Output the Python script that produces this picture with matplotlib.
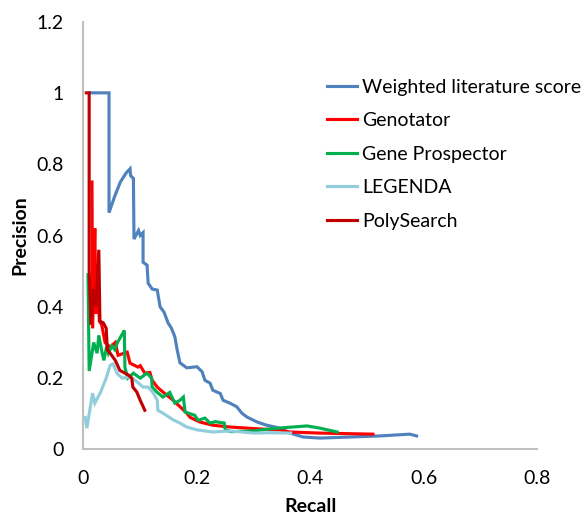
import numpy as np
import matplotlib
matplotlib.use("Agg")
import matplotlib.pyplot as plt

plt.rcParams['font.family'] = ['Lato', 'DejaVu Sans']

# recall / precision pairs
weighted_recall = [0.011, 0.045, 0.045, 0.055, 0.065, 0.075, 0.082, 0.083, 0.088, 0.089,
                   0.097, 0.100, 0.105, 0.105, 0.112, 0.114, 0.121, 0.130, 0.135, 0.142,
                   0.149, 0.155, 0.161, 0.165, 0.170, 0.182, 0.200, 0.209, 0.214, 0.223,
                   0.228, 0.241, 0.246, 0.258, 0.270, 0.279, 0.288, 0.306, 0.323, 0.346,
                   0.364, 0.387, 0.417, 0.487, 0.522, 0.575, 0.587]
weighted_prec = [1.0, 1.0, 0.664, 0.71, 0.75, 0.775, 0.787, 0.768, 0.76, 0.59,
                 0.614, 0.60, 0.608, 0.525, 0.517, 0.466, 0.45, 0.447, 0.40, 0.385,
                 0.355, 0.34, 0.316, 0.28, 0.243, 0.229, 0.232, 0.218, 0.194, 0.186,
                 0.166, 0.157, 0.138, 0.13, 0.12, 0.102, 0.091, 0.077, 0.068, 0.06,
                 0.046, 0.035, 0.032, 0.036, 0.038, 0.043, 0.038]

genotator_recall = [0.015, 0.016, 0.020, 0.022, 0.025, 0.028, 0.032, 0.038, 0.047, 0.056,
                    0.061, 0.077, 0.082, 0.096, 0.100, 0.108, 0.117, 0.121, 0.130, 0.140,
                    0.158, 0.170, 0.182, 0.188, 0.205, 0.228, 0.258, 0.288, 0.316, 0.346,
                    0.364, 0.416, 0.447, 0.510]
genotator_prec = [0.75, 0.34, 0.62, 0.38, 0.52, 0.36, 0.35, 0.30, 0.287, 0.30,
                  0.264, 0.273, 0.242, 0.231, 0.235, 0.214, 0.216, 0.194, 0.175, 0.161,
                  0.138, 0.12, 0.102, 0.09, 0.077, 0.068, 0.063, 0.06, 0.057, 0.055,
                  0.049, 0.046, 0.045, 0.043]

prospector_recall = [0.008, 0.010, 0.018, 0.024, 0.027, 0.033, 0.036, 0.041, 0.044, 0.050,
                     0.055, 0.060, 0.072, 0.073, 0.078, 0.088, 0.100, 0.112, 0.120, 0.121,
                     0.130, 0.140, 0.152, 0.161, 0.170, 0.176, 0.179, 0.196, 0.202, 0.214,
                     0.223, 0.232, 0.248, 0.250, 0.260, 0.300, 0.330, 0.360, 0.394, 0.416,
                     0.447]
prospector_prec = [0.49, 0.22, 0.30, 0.27, 0.32, 0.27, 0.25, 0.29, 0.27, 0.29,
                   0.28, 0.30, 0.334, 0.23, 0.20, 0.214, 0.20, 0.214, 0.20, 0.175,
                   0.16, 0.147, 0.16, 0.13, 0.138, 0.147, 0.105, 0.096, 0.082, 0.088,
                   0.074, 0.078, 0.074, 0.055, 0.05, 0.052, 0.058, 0.062, 0.066, 0.06,
                   0.049]

legenda_recall = [0.003, 0.006, 0.016, 0.020, 0.030, 0.040, 0.047, 0.052, 0.059, 0.068,
                  0.082, 0.091, 0.105, 0.114, 0.122, 0.130, 0.131, 0.140, 0.158, 0.170,
                  0.182, 0.200, 0.228, 0.258, 0.300, 0.330, 0.365]
legenda_prec = [0.09, 0.06, 0.158, 0.13, 0.16, 0.20, 0.236, 0.24, 0.214, 0.20,
                0.203, 0.194, 0.175, 0.175, 0.161, 0.138, 0.11, 0.102, 0.083, 0.074,
                0.063, 0.055, 0.049, 0.052, 0.046, 0.047, 0.046]

polysearch_recall = [0.005, 0.010, 0.010, 0.013, 0.018, 0.022, 0.027, 0.029, 0.035, 0.040,
                     0.042, 0.047, 0.056, 0.064, 0.073, 0.078, 0.085, 0.087, 0.094, 0.100,
                     0.108]
polysearch_prec = [1.0, 1.0, 0.50, 0.35, 0.45, 0.40, 0.56, 0.36, 0.355, 0.34,
                   0.28, 0.27, 0.25, 0.222, 0.214, 0.21, 0.20, 0.175, 0.161, 0.138,
                   0.11]

series = [
    ("Weighted literature score", weighted_recall, weighted_prec, "#4F81BD"),
    ("Genotator", genotator_recall, genotator_prec, "#FF0000"),
    ("Gene Prospector", prospector_recall, prospector_prec, "#00B050"),
    ("LEGENDA", legenda_recall, legenda_prec, "#92CDDC"),
    ("PolySearch", polysearch_recall, polysearch_prec, "#C00000"),
]

fig = plt.figure(figsize=(5.85, 5.16), dpi=100)
ax = fig.add_axes([0.1427, 0.1289, 0.7761, 0.8294])

for name, r, p, col in series:
    ax.plot(r, p, color=col, lw=2.25, label=name, solid_joinstyle='miter')

ax.set_xlim(0, 0.8)
ax.set_ylim(0, 1.2)
ax.set_xticks([0, 0.2, 0.4, 0.6, 0.8])
ax.set_xticklabels(['0', '0.2', '0.4', '0.6', '0.8'])
ax.set_yticks([0, 0.2, 0.4, 0.6, 0.8, 1.0, 1.2])
ax.set_yticklabels(['0', '0.2', '0.4', '0.6', '0.8', '1', '1.2'])
ax.tick_params(axis='x', length=0, labelsize=14, pad=15)
ax.tick_params(axis='y', length=0, labelsize=14, pad=14)

for s in ['top', 'right']:
    ax.spines[s].set_visible(False)
for s in ['left', 'bottom']:
    ax.spines[s].set_color('#BFBFBF')
    ax.spines[s].set_linewidth(1.5)

ax.set_xlabel('Recall', fontsize=14, fontweight='bold', labelpad=8)
ax.set_ylabel('Precision', fontsize=14, fontweight='bold', labelpad=6)

leg = ax.legend(loc='upper left', bbox_to_anchor=(0.52, 0.885), frameon=False,
                fontsize=14, handlelength=1.5, handletextpad=0.3, labelspacing=0.85,
                borderaxespad=0)

fig.savefig('out.png', dpi=100)
